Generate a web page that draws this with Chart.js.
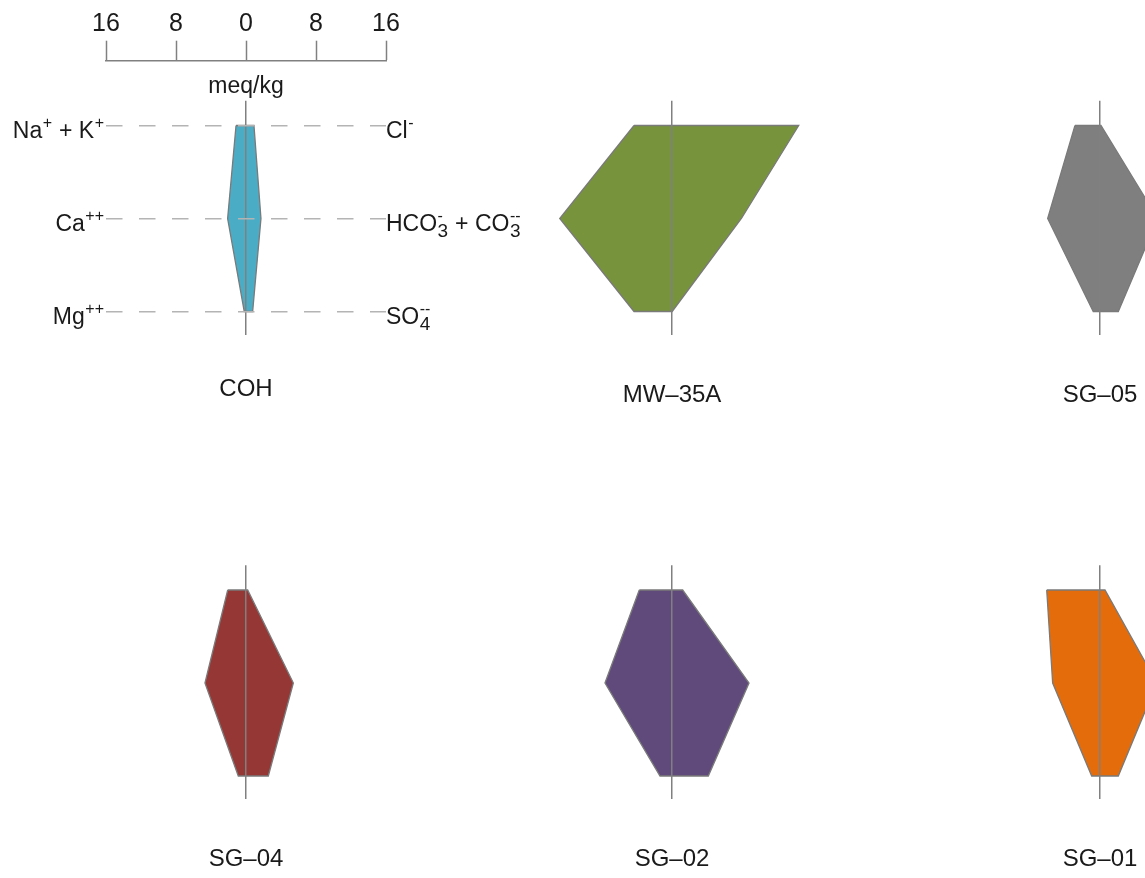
<!DOCTYPE html>
<html><head><meta charset="utf-8">
<script src="https://cdn.jsdelivr.net/npm/chart.js"></script>
<style>
html,body{margin:0;padding:0;overflow:hidden;background:#fff;}
#wrap{position:relative;width:1145px;height:878px;overflow:hidden;background:#fff;}
canvas{position:absolute;}
</style></head><body><div id="wrap"></div>
<script>
// ---------------- data (meq/kg) ----------------
const sampleNames = ['COH', 'MW–35A', 'SG–05', 'SG–04', 'SG–02', 'SG–01'];
const naK  = [1.14, 4.34, 2.86, 2.09, 3.74, 6.09];
const ca   = [2.10, 12.83, 5.98, 4.69, 7.66, 5.41];
const mg   = [0.20, 4.34, 0.77, 0.88, 1.37, 0.95];
const cl   = [0.91, 14.48, 0.11, 0.19, 1.22, 0.57];
const hco3 = [1.71, 7.93, 6.60, 5.41, 8.80, 6.50];
const so4  = [0.76, 0.02, 2.09, 2.55, 4.15, 2.09];
const scaleTicks = [-16, -8, 0, 8, 16];
const scaleUnit = 'meq/kg';
const sampleColors = ['#4bacc6', '#77933c', '#7f7f7f', '#953735', '#604a7b', '#e46c0a'];
// ion labels (rich text: t = normal, sub / sup = sub- and superscripts)
const cationText = [
  [{t:'Na'}, {sup:'+'}, {t:' + K'}, {sup:'+'}],
  [{t:'Ca'}, {sup:'++'}],
  [{t:'Mg'}, {sup:'++'}]
];
const anionText = [
  [{t:'Cl'}, {sup:'-'}],
  [{t:'HCO'}, {sub:'3', sup:'-'}, {t:' + CO'}, {sub:'3', sup:'--'}],
  [{t:'SO'}, {sub:'4', sup:'--'}]
];

// ---------------- layout ----------------
const FONT = "'Liberation Sans', Arial, Helvetica, sans-serif";
Chart.defaults.font.family = FONT;
Chart.defaults.color = '#1a1a1a';
const PX_PER_MEQ = 8.75;
const HALF = 16;
const AREA_W = 2 * HALF * PX_PER_MEQ;
const colCenters = [246, 672, 1100];
const rowTops = [125.5, 590];
const ROW_STEP = 93;
const Y_MIN = -0.265, Y_MAX = 2.25;
const nameY = [389, 395.3, 395.3, 859.5, 859.5, 859.5];
const NAME_SIZE = 24;
const AXIS_GRAY = '#808080';
const DASH_GRAY = '#b4b4b4';

const wrap = document.getElementById('wrap');
function addCanvas(left, top, w, h) {
  const c = document.createElement('canvas');
  c.width = w; c.height = h;
  c.style.left = left + 'px'; c.style.top = top + 'px';
  c.style.width = w + 'px'; c.style.height = h + 'px';
  wrap.appendChild(c);
  return c;
}

// rich text drawing for ion labels
const MAIN_FONT = '23px ' + FONT, SUB_FONT = '19px ' + FONT, SUP_FONT = '16px ' + FONT;
function segWidth(ctx, s) {
  if (s.t !== undefined) { ctx.font = MAIN_FONT; return ctx.measureText(s.t).width; }
  let a = 0, b = 0;
  if (s.sub) { ctx.font = SUB_FONT; a = ctx.measureText(s.sub).width; }
  if (s.sup) { ctx.font = SUP_FONT; b = ctx.measureText(s.sup).width; }
  return Math.max(a, b) + 1;
}
function drawRich(ctx, segs, x, y, align) {
  let w = 0;
  for (const s of segs) w += segWidth(ctx, s);
  let px = align === 'right' ? x - w : x;
  ctx.save();
  ctx.fillStyle = '#1a1a1a';
  ctx.textBaseline = 'alphabetic';
  ctx.textAlign = 'left';
  for (const s of segs) {
    const sw = segWidth(ctx, s);
    if (s.t !== undefined) { ctx.font = MAIN_FONT; ctx.fillText(s.t, px, y); }
    else {
      if (s.sub) { ctx.font = SUB_FONT; ctx.fillText(s.sub, px + 0.5, y + 5.7); }
      if (s.sup) { ctx.font = SUP_FONT; ctx.fillText(s.sup, px + 0.5, y - 9.5); }
    }
    px += sw;
  }
  ctx.restore();
}
const ionLabelPlugin = {
  id: 'ionLabels',
  afterDraw(chart) {
    const {ctx, chartArea, scales} = chart;
    for (let k = 0; k < 3; k++) {
      const py = scales.y.getPixelForValue(k) + 12.3;
      drawRich(ctx, cationText[k], chartArea.left - 1.5, py, 'right');
      drawRich(ctx, anionText[k], chartArea.right, py, 'left');
    }
  }
};

// ---------------- top scale (meq/kg) ----------------
(function () {
  const padX = 30;
  const left = colCenters[0] - HALF * PX_PER_MEQ - padX;
  const c = addCanvas(left, 0, AREA_W + 2 * padX, 130);
  new Chart(c, {
    type: 'line',
    data: { datasets: [] },
    options: {
      responsive: false, animation: false, events: [],
      layout: { padding: { left: padX, right: padX, top: 6.7, bottom: 0 } },
      plugins: { legend: { display: false }, tooltip: { enabled: false } },
      scales: {
        x: {
          type: 'linear', position: 'top', min: -HALF, max: HALF,
          afterBuildTicks: s => { s.ticks = scaleTicks.map(v => ({ value: v })); },
          ticks: { callback: v => Math.abs(v), font: { size: 25 }, color: '#1a1a1a', padding: 2, autoSkip: false, maxRotation: 0 },
          grid: { drawOnChartArea: false, drawTicks: true, tickLength: 20, tickColor: AXIS_GRAY, tickWidth: 1.5, color: AXIS_GRAY },
          border: { display: true, color: AXIS_GRAY, width: 1.5 }
        },
        x2: {
          type: 'linear', position: 'bottom', min: -HALF, max: HALF,
          ticks: { display: false },
          grid: { display: false, drawTicks: false },
          border: { display: false },
          title: { display: true, text: scaleUnit, font: { size: 23 }, color: '#1a1a1a', padding: { top: 0, bottom: 30 } }
        },
        y: { display: false, min: 0, max: 1 }
      }
    }
  });
})();

// ---------------- stiff panels ----------------
function makePanel(i) {
  const col = i % 3, r = Math.floor(i / 3);
  const cx = colCenters[col];
  const areaTop = rowTops[r] + Y_MIN * ROW_STEP;
  const areaH = (Y_MAX - Y_MIN) * ROW_STEP;
  const areaLeft = cx - HALF * PX_PER_MEQ;
  const wantL = i === 0 ? 130 : 12, wantR = i === 0 ? 150 : 12;
  const canvasLeft = Math.floor(areaLeft - wantL);
  const padL = areaLeft - canvasLeft;
  const canvasW = Math.ceil(padL + AREA_W + wantR);
  const padR = canvasW - padL - AREA_W;
  const canvasTop = Math.floor(areaTop - 4);
  const padT = areaTop - canvasTop;
  const lh = NAME_SIZE * 1.2;
  const titlePadTop = nameY[i] - (areaTop + areaH) - lh / 2;
  const need = padT + areaH + titlePadTop + lh;
  const canvasH = Math.ceil(need);
  const padB = canvasH - need;
  const c = addCanvas(canvasLeft, canvasTop, canvasW, canvasH);

  const pts = [
    { x: -naK[i], y: 0 }, { x: -ca[i], y: 1 }, { x: -mg[i], y: 2 },
    { x: so4[i], y: 2 }, { x: hco3[i], y: 1 }, { x: cl[i], y: 0 },
    { x: -naK[i], y: 0 }
  ];
  new Chart(c, {
    type: 'line',
    data: {
      datasets: [{
        label: sampleNames[i], data: pts,
        fill: 'shape', backgroundColor: sampleColors[i],
        borderColor: '#7a7a7a', borderWidth: 1.3, tension: 0,
        pointRadius: 0, pointHoverRadius: 0
      }]
    },
    options: {
      responsive: false, animation: false, events: [],
      layout: { padding: { left: padL, right: padR, top: padT, bottom: padB } },
      plugins: { legend: { display: false }, tooltip: { enabled: false } },
      scales: {
        x: {
          type: 'linear', position: 'bottom', min: -HALF, max: HALF,
          afterBuildTicks: s => { s.ticks = [{ value: 0 }]; },
          ticks: { display: false },
          grid: { display: true, drawTicks: false, drawOnChartArea: true, color: AXIS_GRAY, lineWidth: 1.5, z: 1 },
          border: { display: false },
          title: { display: true, text: sampleNames[i], font: { size: NAME_SIZE }, color: '#1a1a1a', padding: { top: titlePadTop, bottom: 0 } }
        },
        y: {
          type: 'linear', min: Y_MIN, max: Y_MAX, reverse: true,
          afterBuildTicks: s => { s.ticks = [0, 1, 2].map(v => ({ value: v })); },
          ticks: { display: false },
          grid: { display: i === 0, drawTicks: false, color: DASH_GRAY, lineWidth: 1.5, z: 1 },
          border: { display: false, dash: [16.5, 16.5] }
        }
      }
    },
    plugins: i === 0 ? [ionLabelPlugin] : []
  });
}
for (let i = 0; i < sampleNames.length; i++) makePanel(i);
</script>
</body></html>
